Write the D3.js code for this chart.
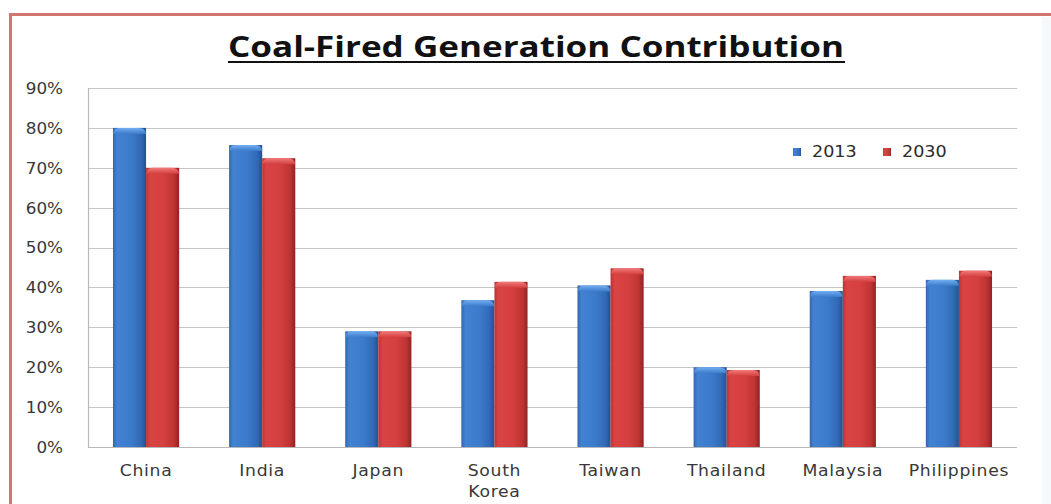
<!DOCTYPE html>
<html>
<head>
<meta charset="utf-8">
<script src="https://cdn.jsdelivr.net/npm/d3@7"></script>
<style>
  html, body { margin: 0; padding: 0; background: #ffffff; }
  svg { display: block; }
</style>
</head>
<body>
<script>
// Coal-fired share of electricity generation, 2013 vs 2030
const countries = ["China", "India", "Japan", "South Korea", "Taiwan", "Thailand", "Malaysia", "Philippines"];
const share2013 = [0.80, 0.757, 0.29, 0.368, 0.405, 0.20, 0.391, 0.419];
const share2030 = [0.70, 0.724, 0.29, 0.414, 0.448, 0.193, 0.429, 0.442];
const seriesNames = ["2013", "2030"];
const yTicks = [0, 0.1, 0.2, 0.3, 0.4, 0.5, 0.6, 0.7, 0.8, 0.9];

const W = 1051, H = 504;
const plot = { left: 88, right: 1017, top: 88, bottom: 447 };

const svg = d3.select("body").append("svg").attr("width", W).attr("height", H);

// faint tint at the far right edge
svg.append("rect").attr("x", 1042).attr("y", 17).attr("width", 9).attr("height", H - 17).attr("fill", "#f6f9fc");

// outer frame
svg.append("rect")
  .attr("x", 10.5).attr("y", 14.5).attr("width", 1200).attr("height", 800)
  .attr("fill", "none").attr("stroke", "#d27672").attr("stroke-width", 3);

const defs = svg.append("defs");
function barGradient(id, stops) {
  const g = defs.append("linearGradient").attr("id", id).attr("x1", "0").attr("x2", "1").attr("y1", "0").attr("y2", "0");
  stops.forEach(([o, c]) => g.append("stop").attr("offset", o).attr("stop-color", c));
}
function capGradient(id, top, bottom) {
  const g = defs.append("linearGradient").attr("id", id).attr("x1", "0").attr("x2", "0").attr("y1", "0").attr("y2", "1");
  g.append("stop").attr("offset", 0).attr("stop-color", top);
  g.append("stop").attr("offset", 1).attr("stop-color", bottom);
}
barGradient("blueBody", [[0, "#3366ad"], [0.12, "#4282d2"], [0.55, "#3c7bcb"], [0.85, "#3169b6"], [1, "#24508e"]]);
barGradient("redBody", [[0, "#b93434"], [0.12, "#da4343"], [0.55, "#d43f3f"], [0.85, "#bf3333"], [1, "#8e2424"]]);
capGradient("blueCap", "#72aef2", "#3c7bcb");
capGradient("redCap", "#f27a7a", "#d43f3f");

const x0 = d3.scaleBand().domain(countries).range([plot.left, plot.right]).paddingInner(0.43).paddingOuter(0.215);
const x1 = d3.scaleBand().domain(seriesNames).range([0, x0.bandwidth()]);
const y = d3.scaleLinear().domain([0, 0.9]).range([plot.bottom, plot.top]);

// gridlines
svg.append("g").selectAll("line").data(yTicks.slice(1)).join("line")
  .attr("x1", plot.left).attr("x2", plot.right)
  .attr("y1", d => Math.round(y(d)) + 0.5).attr("y2", d => Math.round(y(d)) + 0.5)
  .attr("stroke", "#c4c4c4").attr("stroke-width", 1.2);

// y axis
const yAxis = svg.append("g").attr("transform", `translate(${plot.left},0)`)
  .call(d3.axisLeft(y).tickValues(yTicks).tickFormat(d3.format(".0%")).tickSize(0));
yAxis.select(".domain").attr("stroke", "#b8b8b8").attr("stroke-width", 1.2);
yAxis.selectAll("text")
  .attr("x", -22.3).attr("dy", "0.36em")
  .attr("transform", "scale(1.12,1)")
  .attr("font-family", "DejaVu Sans").attr("font-size", 15)
  .attr("fill", "#383838");

// baseline
svg.append("line").attr("x1", plot.left).attr("x2", plot.right)
  .attr("y1", plot.bottom + 0.5).attr("y2", plot.bottom + 0.5)
  .attr("stroke", "#b8b8b8").attr("stroke-width", 1.2);

// bars
const rows = countries.map((c, i) => ({ c, vals: [share2013[i], share2030[i]] }));
const groups = svg.append("g").selectAll("g").data(rows).join("g")
  .attr("transform", d => `translate(${x0(d.c)},0)`);
const bars = groups.selectAll("g").data(d => d.vals.map((v, k) => ({ v, s: seriesNames[k], k }))).join("g");
bars.append("rect")
  .attr("x", d => x1(d.s)).attr("width", x1.bandwidth())
  .attr("y", d => y(d.v)).attr("height", d => plot.bottom - y(d.v))
  .attr("fill", d => d.k === 0 ? "url(#blueBody)" : "url(#redBody)");
bars.append("path")
  .attr("d", d => {
    const xl = x1(d.s), xr = xl + x1.bandwidth(), yt = y(d.v);
    return `M${xl},${yt + 6} Q${xl + 1},${yt} ${xl + 7},${yt} L${xr - 7},${yt} Q${xr - 1},${yt} ${xr},${yt + 6} Z`;
  })
  .attr("fill", d => d.k === 0 ? "url(#blueCap)" : "url(#redCap)");

// category labels
const catLabels = svg.append("g").selectAll("text").data(countries).join("text")
  .attr("transform", d => `translate(${x0(d) + x0.bandwidth() / 2},476) scale(1.15,1)`)
  .attr("text-anchor", "middle")
  .attr("font-family", "DejaVu Sans").attr("font-size", 15).attr("letter-spacing", 0.6)
  .attr("fill", "#383838");
catLabels.each(function (d) {
  const parts = d === "South Korea" ? ["South", "Korea"] : [d];
  d3.select(this).selectAll("tspan").data(parts).join("tspan")
    .attr("x", 0).attr("dy", (p, i) => i === 0 ? 0 : 21).text(p => p);
});

// legend
const legend = svg.append("g");
const legendX = [793, 883];
seriesNames.forEach((s, k) => {
  legend.append("rect").attr("x", legendX[k]).attr("y", 148).attr("width", 8).attr("height", 8)
    .attr("fill", k === 0 ? "url(#blueBody)" : "url(#redBody)");
  legend.append("text")
    .attr("transform", `translate(${legendX[k] + 19},157) scale(1.1,1)`)
    .attr("font-family", "DejaVu Sans").attr("font-size", 16)
    .attr("fill", "#2a2a2a").text(s);
});

// title
svg.append("text")
  .attr("x", 228).attr("y", 57)
  .attr("textLength", 616).attr("lengthAdjust", "spacingAndGlyphs")
  .attr("font-family", "Open Sans").attr("font-weight", "bold").attr("font-size", 28)
  .attr("fill", "#111111")
  .text("Coal-Fired Generation Contribution");
svg.append("line").attr("x1", 228).attr("x2", 845).attr("y1", 62).attr("y2", 62)
  .attr("stroke", "#111111").attr("stroke-width", 2);
</script>
</body>
</html>
